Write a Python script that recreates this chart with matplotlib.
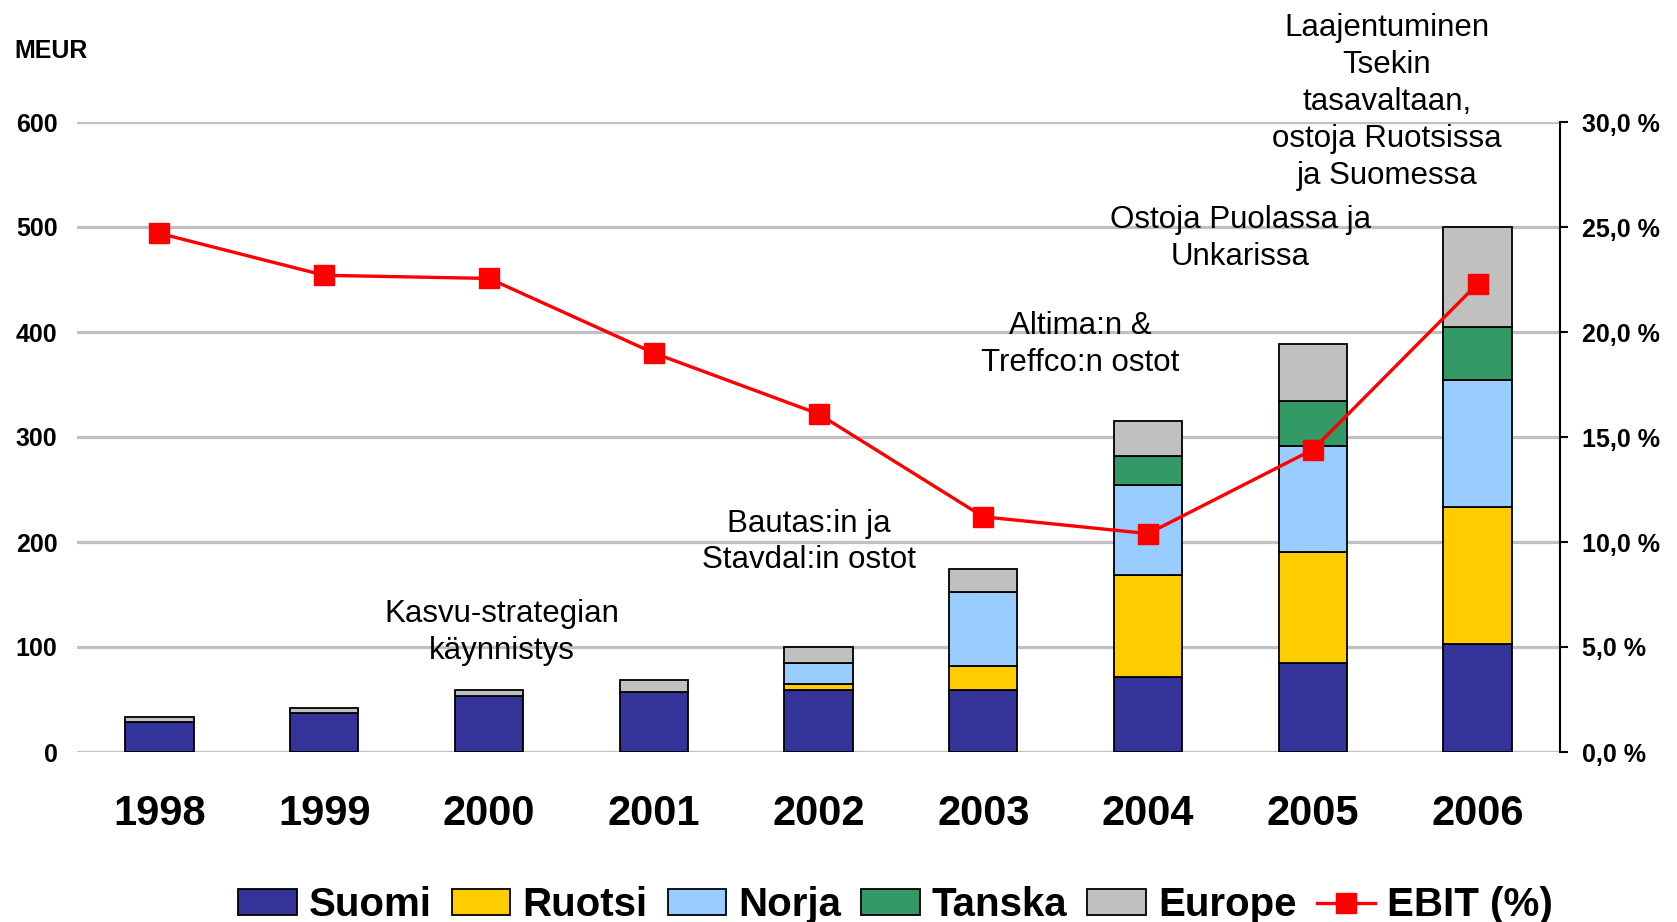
import matplotlib
matplotlib.use("Agg")
import matplotlib.pyplot as plt
from matplotlib.patches import Patch
from matplotlib.lines import Line2D
import numpy as np

plt.rcParams['font.family'] = ['Liberation Sans', 'DejaVu Sans']

years = ["1998", "1999", "2000", "2001", "2002", "2003", "2004", "2005", "2006"]
suomi = [29, 37, 53, 57, 59, 59, 71, 85, 103]
ruotsi = [0, 0, 0, 0, 6, 23, 98, 105, 130]
norja = [0, 0, 0, 0, 20, 70, 85, 101, 121]
tanska = [0, 0, 0, 0, 0, 0, 28, 43, 51]
europe = [4, 4.5, 6, 12, 15, 22, 33, 55, 95]
ebit = [24.7, 22.7, 22.55, 19.0, 16.1, 11.2, 10.4, 14.4, 22.3]

series_names = ["Suomi", "Ruotsi", "Norja", "Tanska", "Europe"]
series_colors = ["#333399", "#FFCC00", "#99CCFF", "#339966", "#C0C0C0"]
left_ticks = [0, 100, 200, 300, 400, 500, 600]
right_ticks = [0, 5, 10, 15, 20, 25, 30]
right_labels = ["0,0 %", "5,0 %", "10,0 %", "15,0 %", "20,0 %", "25,0 %", "30,0 %"]

annotations = [
    ("Kasvu-strategian\nkäynnistys", 2.08, 114),
    ("Bautas:in ja\nStavdal:in ostot", 3.94, 200),
    ("Altima:n &\nTreffco:n ostot", 5.59, 388),
    ("Ostoja Puolassa ja\nUnkarissa", 6.56, 489),
    ("Laajentuminen\nTsekin\ntasavaltaan,\nostoja Ruotsissa\nja Suomessa", 7.45, 619),
]

W, H = 1677, 922
fig = plt.figure(figsize=(W / 100, H / 100), dpi=100)
ax = fig.add_axes([77 / W, 1 - 752 / H, (1560 - 77) / W, (752 - 122) / H])

x = np.arange(len(years))
bottom = np.zeros(len(years))
for name, color, vals in zip(series_names, series_colors, [suomi, ruotsi, norja, tanska, europe]):
    ax.bar(x, vals, width=0.415, bottom=bottom, color=color, edgecolor="black",
           linewidth=1.3, zorder=3)
    bottom += np.array(vals)

ax.set_xlim(-0.5, len(years) - 0.5)
ax.set_ylim(0, 600)
ax.set_yticks(left_ticks)
ax.set_yticklabels([str(t) for t in left_ticks], fontsize=18, fontweight="bold")
ax.set_xticks(x)
ax.set_xticklabels(years, fontsize=30, fontweight="bold")
ax.tick_params(axis="x", length=0, pad=30)
ax.tick_params(axis="y", length=0, pad=14)
for s in ax.spines.values():
    s.set_visible(False)
ax.set_axisbelow(True)
ax.yaxis.grid(True, color="#C0C0C0", linewidth=2.3, zorder=0)
ax.xaxis.grid(False)

ax2 = ax.twinx()
ax2.plot(x, ebit, color="#FF0000", linewidth=2.4, marker="s", markersize=14,
         markerfacecolor="#FF0000", markeredgecolor="#FF0000", zorder=5)
ax2.set_ylim(0, 30)
ax2.set_yticks(right_ticks)
ax2.set_yticklabels(right_labels, fontsize=18, fontweight="bold")
ax2.tick_params(axis="y", direction="out", length=6, width=1.5, pad=10)
for k in ["top", "left", "bottom"]:
    ax2.spines[k].set_visible(False)
ax2.spines["right"].set_linewidth(1.5)

for txt, xi, yi in annotations:
    ax.text(xi, yi, txt, ha="center", va="center", fontsize=22.5,
            linespacing=1.3, zorder=6, clip_on=False)

fig.text(14 / W, 1 - 51 / H, "MEUR", fontsize=18, fontweight="bold",
         ha="left", va="center")

handles = [Patch(facecolor=c, edgecolor="black", linewidth=1.3) for c in series_colors]
handles.append(Line2D([0], [0], color="#FF0000", linewidth=2.4, marker="s",
                      markersize=14))
labels = series_names + ["EBIT (%)"]
fig.legend(handles, labels, loc="center", bbox_to_anchor=(0.534, 0.018), ncol=6,
           frameon=False, prop={"size": 29, "weight": "bold"},
           handlelength=1.45, handleheight=0.62, handletextpad=0.3,
           columnspacing=0.5, borderpad=0)

fig.savefig("out.png", dpi=100)
